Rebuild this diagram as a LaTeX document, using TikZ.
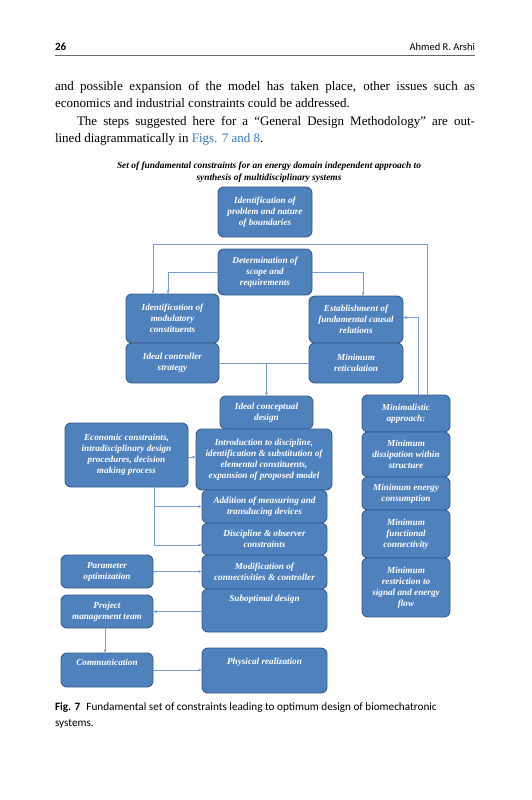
\documentclass[tikz,border=0pt]{standalone}
\usepackage{fontspec}
\setmainfont{Liberation Serif}
\newfontfamily\capfont{Carlito}
\usetikzlibrary{arrows.meta}
\definecolor{boxblue}{RGB}{79,129,189}
\definecolor{boxline}{RGB}{56,93,138}
\definecolor{connblue}{RGB}{120,158,210}
\definecolor{linkblue}{RGB}{52,120,180}

\begin{document}
\begin{tikzpicture}[x=1pt, y=-1pt,
    every node/.style={inner sep=0pt, outer sep=0pt},
    box/.style={draw=boxline, fill=boxblue, line width=0.9pt, rounded corners=6pt, text=white, align=center, font=\fontsize{9.2}{11}\selectfont\bfseries\itshape},
    body/.style={anchor=base west, font=\fontsize{13}{17}\selectfont},
    caption/.style={anchor=base west, font=\fontsize{11.2}{13}\selectfont\capfont},
    conn/.style={draw=connblue, line width=0.6pt},
    arrow/.style={conn, -{Latex[length=3.5pt, width=3pt]}}
]
\useasboundingbox[fill=white] (0,0) rectangle (531,800);

% Page head and text
\node[caption, font=\fontsize{11}{13}\selectfont\capfont\bfseries] (pagenum) at (55,51) {26};
\node[caption, font=\fontsize{10.5}{13}\selectfont\capfont, anchor=base east] (author) at (475,51) {Ahmed R. Arshi};
\draw[black!60, line width=0.7pt] (55,55) -- (475,55);

\node[body] (line1) at (55,90) {\makebox[420pt][s]{and possible expansion of the model has taken place, other issues such as}};
\node[body] (line2) at (55,107.5) {economics and industrial constraints could be addressed.};
\node[body] (line3) at (77,125) {\makebox[398pt][s]{The steps suggested here for a “General Design Methodology” are out-}};
\node[body] (line4) at (55,142.5) {lined diagrammatically in \textcolor{linkblue}{Figs. 7 and 8}.};

\node[align=center, font=\fontsize{9.4}{12}\selectfont\bfseries\itshape] (title) at (269,172)
  {Set of fundamental constraints for an energy domain independent approach to\\synthesis of multidisciplinary systems};

% Boxes, middle column
\node[box, minimum width=94pt, minimum height=50pt] (prob) at (265,212) {Identification of\\problem and nature\\of boundaries};
\node[box, minimum width=94pt, minimum height=46pt] (scope) at (265,272) {Determination of\\scope and\\requirements};
\node[box, minimum width=93pt, minimum height=33pt] (ideal) at (266.5,412.5) {Ideal conceptual\\design};
\node[box, minimum width=136pt, minimum height=61pt] (intro) at (264,459.5) {Introduction to discipline,\\identification \& substitution of\\elemental constituents,\\expansion of proposed model};
\node[box, minimum width=125pt, minimum height=33pt] (addit) at (264.5,506.5) {Addition of measuring and\\transducing devices};
\node[box, minimum width=125pt, minimum height=32pt] (discip) at (264.5,539) {Discipline \& observer\\constraints};
\node[box, minimum width=125pt, minimum height=34pt] (modif) at (264.5,572) {Modification of\\connectivities \& controller};
\node[box, minimum width=125pt, minimum height=43pt, text depth=24pt] (subopt) at (264.5,610.5) {Suboptimal design};
\node[box, minimum width=125pt, minimum height=45pt, text depth=18pt] (phys) at (264.5,670.5) {Physical realization};

% Boxes, upper pairs
\node[box, minimum width=93pt, minimum height=49pt] (modul) at (172.5,318.5) {Identification of\\modulatory\\constituents};
\node[box, minimum width=93pt, minimum height=40pt] (ctrl) at (172.5,363) {Ideal controller\\strategy};
\node[box, minimum width=94pt, minimum height=47pt] (causal) at (356,319.5) {Establishment of\\fundamental causal\\relations};
\node[box, minimum width=94pt, minimum height=40pt] (retic) at (356,363) {Minimum\\reticulation};

% Boxes, left column
\node[box, minimum width=123pt, minimum height=64pt] (econ) at (126.5,455) {Economic constraints,\\intradisciplinary design\\procedures, decision\\making process};
\node[box, minimum width=92pt, minimum height=33pt] (param) at (107,571.5) {Parameter\\optimization};
\node[box, minimum width=92pt, minimum height=33pt] (proj) at (107,611.5) {Project\\management team};
\node[box, minimum width=92pt, minimum height=34pt, text depth=16pt] (comm) at (107,670) {Communication};

% Boxes, right column
\node[box, minimum width=88pt, minimum height=37pt] (minim) at (406,413.5) {Minimalistic\\approach:};
\node[box, minimum width=88pt, minimum height=45pt] (dissip) at (406,454.5) {Minimum\\dissipation within\\structure};
\node[box, minimum width=88pt, minimum height=33pt] (energy) at (406,493.5) {Minimum energy\\consumption};
\node[box, minimum width=88pt, minimum height=48pt] (funct) at (406,534) {Minimum\\functional\\connectivity};
\node[box, minimum width=88pt, minimum height=59pt] (restr) at (406,587.5) {Minimum\\restriction to\\signal and energy\\flow};

% Connectors
\coordinate (frameR) at (427,244);
\coordinate (frameL) at (153,244);
\draw[arrow] ([xshift=21pt]minim.north) -- (frameR) -- (frameL) -- (frameL |- modul.north);
\draw[arrow] (scope.west) -| ([xshift=-4.5pt]modul.north);
\draw[arrow] (scope.east) -| ([xshift=7pt]causal.north);
\draw[arrow] ([xshift=12pt]minim.north) |- ([yshift=2pt]causal.east);
\draw[conn] (ctrl.east) -- (retic.west);
\draw[arrow] (ctrl.east -| ideal.north) -- (ideal.north);
\draw[arrow] ([yshift=-2pt]econ.east) -- ([yshift=-2pt]econ.east -| intro.west);
\draw[arrow] ([xshift=27.5pt]econ.south) |- ([yshift=-6pt]discip.west);
\draw[arrow] ([xshift=27.5pt]econ.south |- addit.west) -- (addit.west);
\draw[arrow] (param.east) -- (param.east -| modif.west);
\draw[arrow] (subopt.west |- proj.east) -- (proj.east);
\draw[arrow] ([xshift=-2pt]proj.south) -- ([xshift=-2pt]comm.north);
\draw[arrow] (comm.east) -- (comm.east -| phys.west);

% Caption
\node[caption] (cap1) at (55,710) {\textbf{Fig. 7}\hspace{0.55em}Fundamental set of constraints leading to optimum design of biomechatronic};
\node[caption] (cap2) at (55,726) {systems.};
\end{tikzpicture}
\end{document}
